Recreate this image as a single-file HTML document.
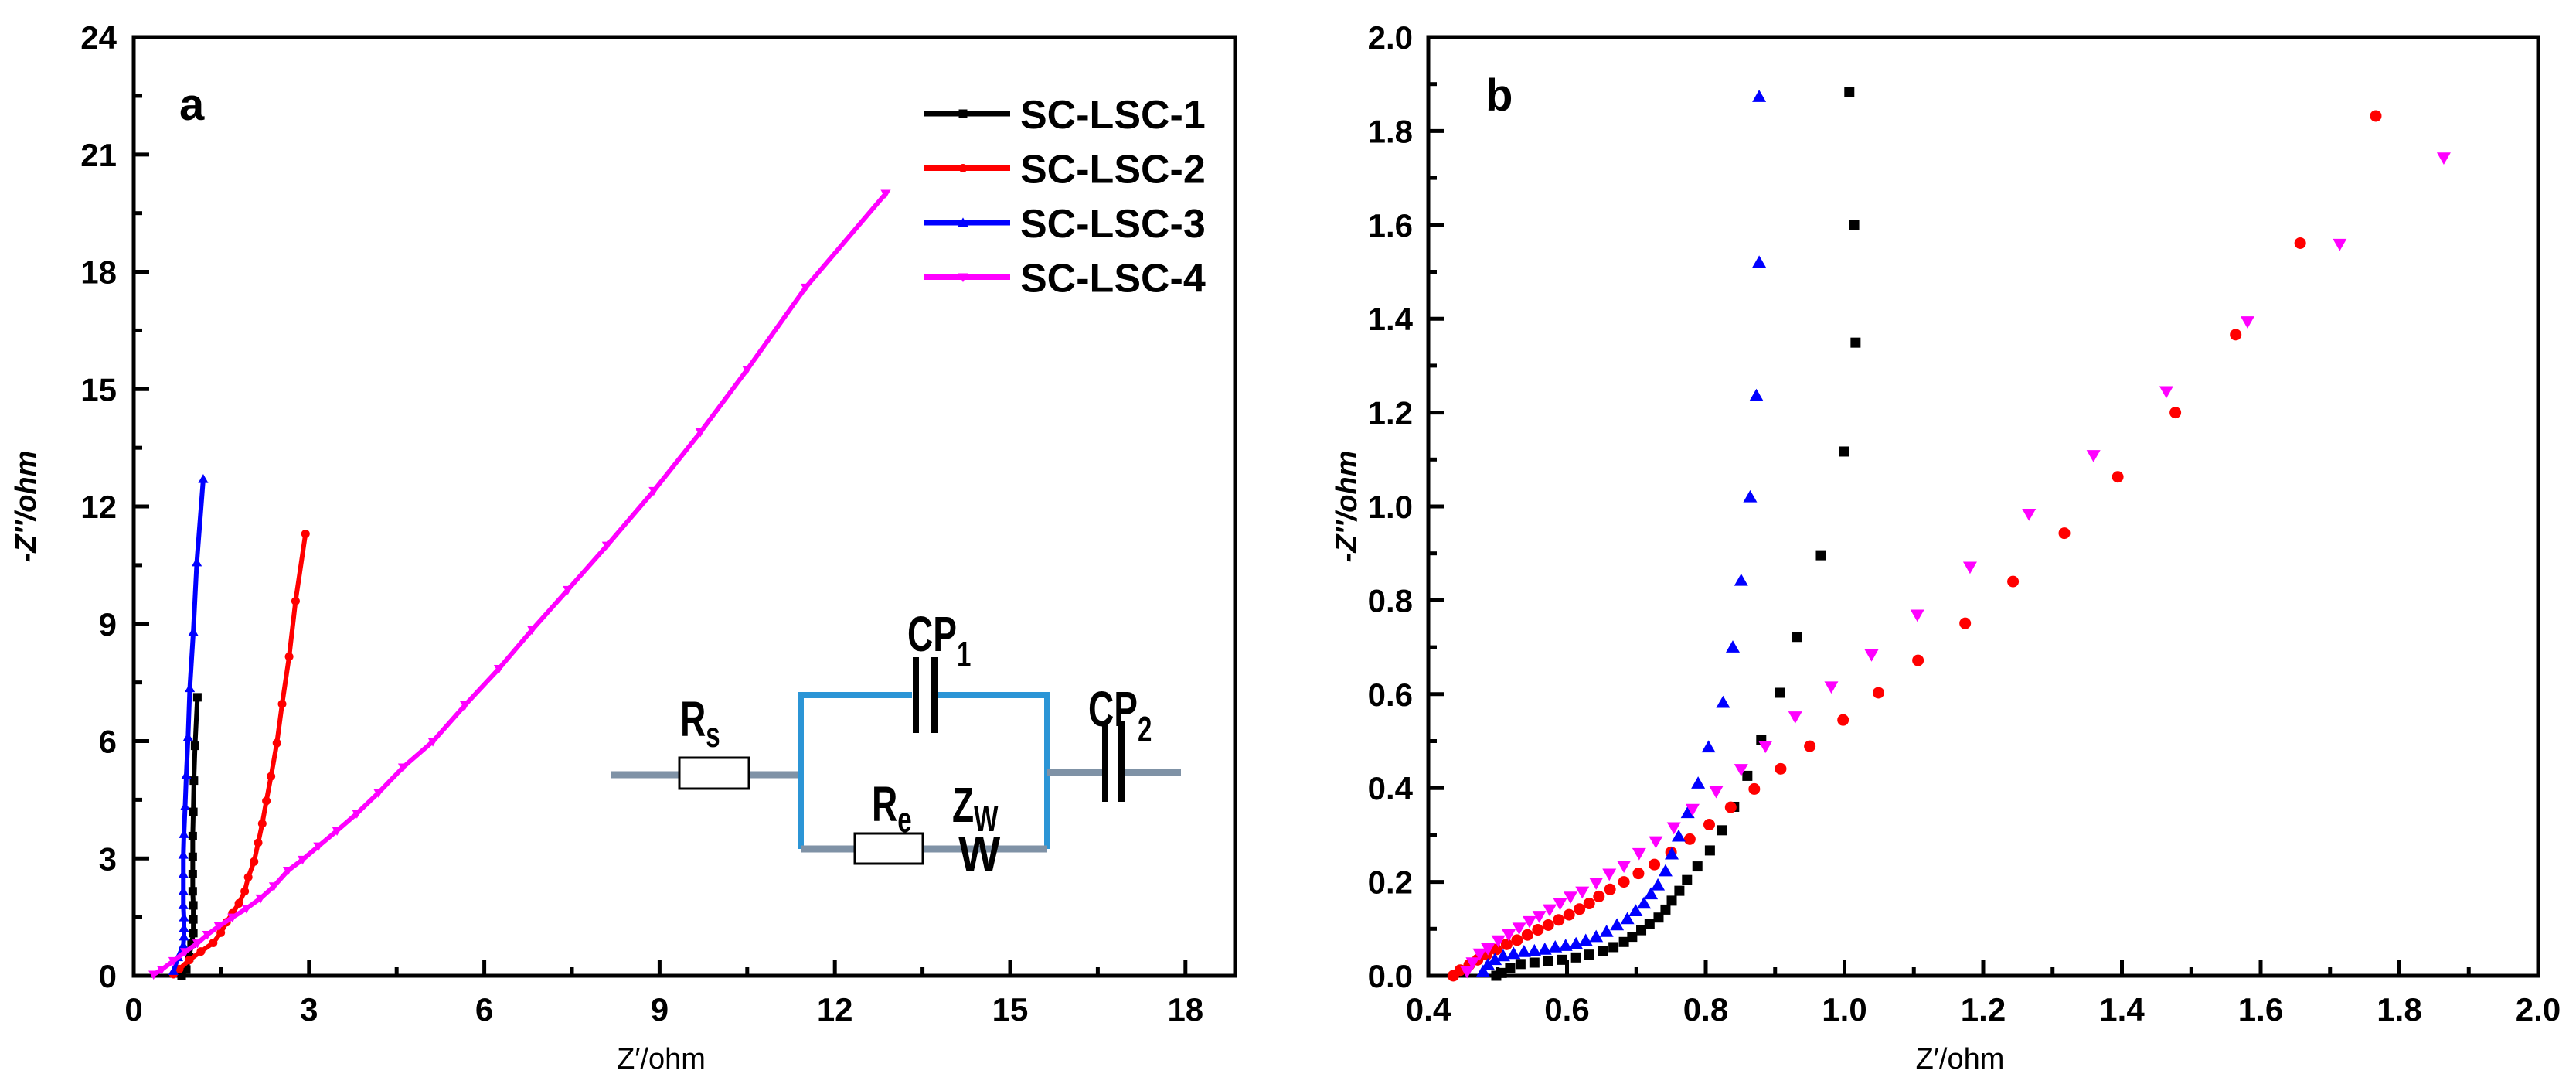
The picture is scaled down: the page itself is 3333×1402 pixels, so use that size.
<!DOCTYPE html>
<html><head><meta charset="utf-8"><style>
html,body{margin:0;padding:0;background:#fff;}
svg{display:block;font-family:"Liberation Sans",Arial,sans-serif;}
.tk{font-size:42px;font-weight:bold;}
</style></head><body>
<svg id="fig" width="3333" height="1402" viewBox="0 0 3333 1402" xmlns="http://www.w3.org/2000/svg">
<rect width="3333" height="1402" fill="#fff"/>
<g id="pa"></g>
<g id="pb"></g>
<g id="circuit">
  <line x1="791" y1="1002" x2="1036" y2="1002" stroke="#7f92a6" stroke-width="9"/>
  <rect x="879" y="980" width="90" height="40" fill="#fff" stroke="#000" stroke-width="3"/>
  <polyline points="1036,1098 1036,899 1355,899 1355,1098" fill="none" stroke="#2b95d6" stroke-width="8"/>
  <line x1="1036" y1="1098" x2="1355" y2="1098" stroke="#7f92a6" stroke-width="9"/>
  <rect x="1106" y="1078" width="88" height="39" fill="#fff" stroke="#000" stroke-width="3"/>
  <rect x="1180" y="880" width="34" height="40" fill="#fff"/>
  <line x1="1185" y1="850" x2="1185" y2="948" stroke="#000" stroke-width="8"/>
  <line x1="1209" y1="850" x2="1209" y2="948" stroke="#000" stroke-width="8"/>
  <line x1="1355" y1="999" x2="1528" y2="999" stroke="#7f92a6" stroke-width="9"/>
  <rect x="1433" y="985" width="16" height="30" fill="#fff"/>
  <line x1="1430" y1="933" x2="1430" y2="1037" stroke="#000" stroke-width="8"/>
  <line x1="1451" y1="933" x2="1451" y2="1037" stroke="#000" stroke-width="8"/>
  <g font-weight="bold" fill="#000">
    <text x="880" y="952" font-size="64" transform="translate(880,0) scale(0.72,1) translate(-880,0)">R<tspan font-size="46" dy="14">s</tspan></text>
    <text x="1174" y="842" font-size="64" transform="translate(1174,0) scale(0.72,1) translate(-1174,0)">CP<tspan font-size="46" dy="20">1</tspan></text>
    <text x="1408" y="939" font-size="64" transform="translate(1408,0) scale(0.72,1) translate(-1408,0)">CP<tspan font-size="46" dy="20">2</tspan></text>
    <text x="1128" y="1062" font-size="64" transform="translate(1128,0) scale(0.72,1) translate(-1128,0)">R<tspan font-size="46" dy="14">e</tspan></text>
    <text x="1232" y="1063" font-size="64" transform="translate(1232,0) scale(0.72,1) translate(-1232,0)">Z<tspan font-size="46" dy="12">W</tspan></text>
    <text x="1240" y="1126" font-size="64" transform="translate(1240,0) scale(0.9,1) translate(-1240,0)">W</text>
  </g>
</g>
</svg>
<script>
// ---------- Panel a data ----------
const aSeriesNames = ["SC-LSC-1","SC-LSC-2","SC-LSC-3","SC-LSC-4"];
const aXTicks = [0,3,6,9,12,15,18];
const aYTicks = [0,3,6,9,12,15,18,21,24];
const a1x = [0.82,0.90,0.95,0.99,1.02,1.02,1.02,1.01,1.01,1.01,1.01,1.02,1.03,1.05,1.09];
const a1y = [0.00,0.16,0.47,0.82,1.09,1.44,1.80,2.16,2.60,3.04,3.57,4.19,4.99,5.88,7.12];
const a2x = [0.68,0.78,0.95,1.15,1.36,1.49,1.59,1.69,1.80,1.90,1.96,2.06,2.13,2.20,2.27,2.35,2.45,2.54,2.66,2.77,2.94];
const a2y = [0.04,0.17,0.40,0.62,0.84,1.10,1.37,1.60,1.85,2.16,2.52,2.92,3.40,3.89,4.47,5.10,5.95,6.95,8.16,9.58,11.3];
const a3x = [0.68,0.76,0.85,0.86,0.86,0.86,0.85,0.85,0.85,0.85,0.86,0.88,0.90,0.93,0.96,1.02,1.08,1.19];
const a3y = [0.12,0.47,0.78,1.00,1.22,1.49,1.80,2.16,2.60,3.09,3.62,4.33,5.13,6.10,7.35,8.79,10.57,12.7];
const a4x = [0.34,0.48,0.68,0.88,1.09,1.26,1.46,1.69,1.93,2.17,2.40,2.64,2.89,3.16,3.48,3.82,4.19,4.61,5.12,5.67,6.25,6.82,7.43,8.1,8.9,9.7,10.5,11.5,12.87];
const a4y = [0.03,0.16,0.38,0.61,0.83,1.05,1.27,1.49,1.72,1.98,2.29,2.69,2.97,3.31,3.71,4.15,4.68,5.33,5.99,6.92,7.85,8.85,9.87,11.0,12.4,13.9,15.5,17.6,20.0];
// ---------- Panel b data ----------
const bXTicks = ["0.4","0.6","0.8","1.0","1.2","1.4","1.6","1.8","2.0"];
const bYTicks = ["0.0","0.2","0.4","0.6","0.8","1.0","1.2","1.4","1.6","1.8","2.0"];
const b1x = [1.007,1.014,1.016,1.000,0.966,0.932,0.907,0.880,0.860,0.841,0.823,0.806,0.788,0.773,0.762,0.751,0.742,0.732,0.719,0.707,0.694,0.682,0.667,0.652,0.632,0.613,0.593,0.573,0.553,0.533,0.518,0.506,0.498];
const b1y = [1.883,1.600,1.349,1.117,0.896,0.722,0.603,0.503,0.426,0.360,0.310,0.267,0.233,0.204,0.181,0.160,0.141,0.124,0.110,0.097,0.083,0.072,0.061,0.053,0.045,0.039,0.034,0.031,0.028,0.025,0.017,0.006,0.0];
const b2x = [1.766,1.657,1.564,1.477,1.394,1.317,1.243,1.174,1.106,1.049,0.998,0.950,0.908,0.870,0.836,0.805,0.777,0.750,0.726,0.703,0.682,0.662,0.646,0.632,0.618,0.603,0.588,0.573,0.558,0.543,0.528,0.513,0.498,0.484,0.471,0.459,0.446,0.436];
const b2y = [1.832,1.561,1.366,1.200,1.063,0.943,0.840,0.751,0.672,0.603,0.545,0.489,0.441,0.398,0.359,0.322,0.291,0.263,0.237,0.218,0.200,0.184,0.169,0.154,0.142,0.130,0.119,0.108,0.098,0.087,0.076,0.067,0.056,0.045,0.034,0.023,0.012,0.0];
const b3x = [0.877,0.877,0.873,0.864,0.851,0.839,0.825,0.804,0.789,0.774,0.761,0.751,0.742,0.731,0.721,0.711,0.699,0.687,0.672,0.657,0.642,0.627,0.613,0.598,0.583,0.568,0.553,0.538,0.523,0.508,0.496,0.486,0.479];
const b3y = [1.873,1.520,1.236,1.020,0.842,0.700,0.582,0.487,0.410,0.347,0.297,0.259,0.223,0.193,0.174,0.154,0.138,0.121,0.108,0.094,0.083,0.075,0.068,0.064,0.061,0.056,0.053,0.051,0.047,0.042,0.034,0.023,0.009];
const b4x = [1.864,1.714,1.581,1.464,1.359,1.266,1.181,1.105,1.039,0.981,0.929,0.886,0.851,0.815,0.781,0.754,0.728,0.704,0.682,0.661,0.642,0.622,0.605,0.590,0.575,0.560,0.546,0.531,0.516,0.501,0.486,0.474,0.464,0.456];
const b4y = [1.743,1.559,1.394,1.245,1.109,0.984,0.871,0.769,0.684,0.616,0.552,0.489,0.440,0.393,0.355,0.316,0.286,0.261,0.234,0.217,0.198,0.179,0.168,0.154,0.141,0.127,0.116,0.102,0.088,0.075,0.058,0.047,0.028,0.009];

const NS = "http://www.w3.org/2000/svg";
function mk(tag, attrs, parent){const e=document.createElementNS(NS,tag);for(const k in attrs)e.setAttribute(k,attrs[k]);parent.appendChild(e);return e;}
const colors = ["#000000","#ff0000","#0000ff","#ff00ff"];

function marker(g, shape, cx, cy, s, col){
  let e;
  if(shape===0){e=mk("rect",{x:cx-s/2,y:cy-s/2,width:s,height:s,fill:col},g);}
  else if(shape===1){e=mk("circle",{cx:cx,cy:cy,r:s/2,fill:col},g);}
  else if(shape===2){e=mk("polygon",{points:`${cx},${cy-s*0.6} ${cx-s*0.6},${cy+s*0.45} ${cx+s*0.6},${cy+s*0.45}`,fill:col},g);}
  else {e=mk("polygon",{points:`${cx},${cy+s*0.6} ${cx-s*0.6},${cy-s*0.45} ${cx+s*0.6},${cy-s*0.45}`,fill:col},g);}
  return e;
}

function axesFrame(g, L, T, R, B){
  const f=mk("rect",{x:L,y:T,width:R-L,height:B-T,fill:"none",stroke:"#000","stroke-width":5},g);
  
  
}

// ---------- Panel a ----------
(function(){
  const g=document.getElementById("pa");
  const L=173,T=48,R=1598,B=1262;
  const xs=v=>L+v*75.6, ys=v=>B-v*50.58;
  axesFrame(g,L,T,R,B);
  aXTicks.forEach((v,i)=>{
    const x=xs(v);
    mk("line",{x1:x,y1:B,x2:x,y2:B-20,stroke:"#000","stroke-width":5},g);
    const xm=xs(v+1.5); if(xm<R) mk("line",{x1:xm,y1:B,x2:xm,y2:B-11,stroke:"#000","stroke-width":5},g);
    const t=mk("text",{x:x,y:B+58,"text-anchor":"middle",class:"tk"},g); t.textContent=v;
    
    
  });
  aYTicks.forEach((v,i)=>{
    const y=ys(v);
    mk("line",{x1:L,y1:y,x2:L+20,y2:y,stroke:"#000","stroke-width":5},g);
    const ym=ys(v+1.5); if(ym>T) mk("line",{x1:L,y1:ym,x2:L+11,y2:ym,stroke:"#000","stroke-width":5},g);
    const t=mk("text",{x:L-22,y:y+15,"text-anchor":"end",class:"tk"},g); t.textContent=v;
    
    
  });
  const xt=mk("text",{x:(L+R)/2-30,y:1382,"text-anchor":"middle","font-size":38},g); xt.textContent="Z′/ohm";
  
  
  const yt=mk("text",{x:0,y:0,"text-anchor":"middle","font-size":38,"font-weight":"bold","font-style":"italic",transform:"translate(46,655) rotate(-90)"},g); yt.textContent="-Z″/ohm";
  
  
  const pl=mk("text",{x:232,y:155,"font-size":58,"font-weight":"bold"},g); pl.textContent="a";
  
  
  const XS=[a1x,a2x,a3x,a4x], YS=[a1y,a2y,a3y,a4y];
  XS.forEach((xa,si)=>{
    const sg=mk("g",{},g);
    
    
    const pts=xa.map((x,i)=>xs(x)+","+ys(YS[si][i])).join(" ");
    mk("polyline",{points:pts,fill:"none",stroke:colors[si],"stroke-width":6,"stroke-linejoin":"round"},sg);
    xa.forEach((x,i)=>{
      const m=marker(sg,si,xs(x),ys(YS[si][i]),11,colors[si]);
      
      
    });
  });
  // legend
  const lg=mk("g",{},g);
  
  
  aSeriesNames.forEach((n,i)=>{
    const y=147+i*70.5;
    const le=mk("g",{},lg);
    
    
    mk("line",{x1:1196,y1:y,x2:1307,y2:y,stroke:colors[i],"stroke-width":7},le);
    marker(le,i,1246,y,11,colors[i]);
    const t=mk("text",{x:1320,y:y+19,"font-size":52,"font-weight":"bold"},le); t.textContent=n;
  });
})();

// ---------- Panel b ----------
(function(){
  const g=document.getElementById("pb");
  const L=1848,T=48,R=3284,B=1262;
  const xs=v=>L+(v-0.4)*897.5, ys=v=>B-v*607;
  axesFrame(g,L,T,R,B);
  bXTicks.forEach((s,i)=>{
    const v=parseFloat(s), x=xs(v);
    mk("line",{x1:x,y1:B,x2:x,y2:B-20,stroke:"#000","stroke-width":5},g);
    const xm=xs(v+0.1); if(xm<R) mk("line",{x1:xm,y1:B,x2:xm,y2:B-11,stroke:"#000","stroke-width":5},g);
    const t=mk("text",{x:x,y:B+58,"text-anchor":"middle",class:"tk"},g); t.textContent=s;
    
    
  });
  bYTicks.forEach((s,i)=>{
    const v=parseFloat(s), y=ys(v);
    mk("line",{x1:L,y1:y,x2:L+20,y2:y,stroke:"#000","stroke-width":5},g);
    const ym=ys(v+0.1); if(ym>T) mk("line",{x1:L,y1:ym,x2:L+11,y2:ym,stroke:"#000","stroke-width":5},g);
    const t=mk("text",{x:L-20,y:y+15,"text-anchor":"end",class:"tk"},g); t.textContent=s;
    
    
  });
  const xt=mk("text",{x:(L+R)/2-30,y:1382,"text-anchor":"middle","font-size":38},g); xt.textContent="Z′/ohm";
  
  
  const yt=mk("text",{x:0,y:0,"text-anchor":"middle","font-size":38,"font-weight":"bold","font-style":"italic",transform:"translate(1755,655) rotate(-90)"},g); yt.textContent="-Z″/ohm";
  
  
  const pl=mk("text",{x:1922,y:143,"font-size":58,"font-weight":"bold"},g); pl.textContent="b";
  
  
  const XS=[b1x,b2x,b3x,b4x], YS=[b1y,b2y,b3y,b4y];
  const sizes=[13,15,15,15];
  XS.forEach((xa,si)=>{
    const sg=mk("g",{},g);
    
    
    xa.forEach((x,i)=>{
      const m=marker(sg,si,xs(x),ys(YS[si][i]),sizes[si],colors[si]);
      
      
    });
  });
})();
</script>
</body></html>
